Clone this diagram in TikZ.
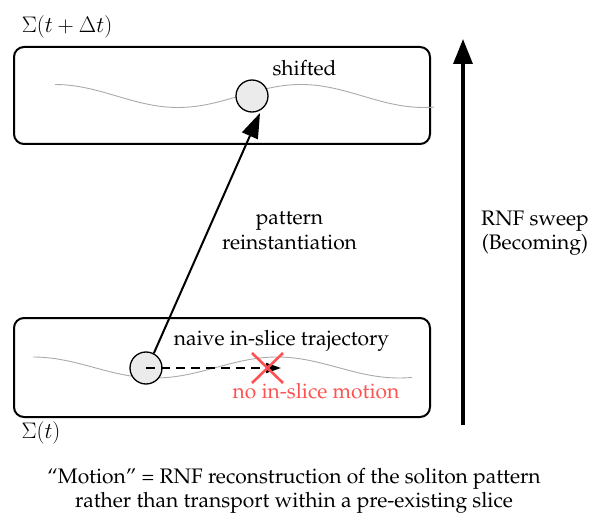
\documentclass[tikz,border=0pt]{standalone}
\usepackage{fix-cm}
\usepackage[T1]{fontenc}
\renewcommand{\rmdefault}{ppl}
\usetikzlibrary{arrows.meta}
\definecolor{softred}{RGB}{252,82,82}
\definecolor{wavegray}{RGB}{170,170,170}
\tikzset{
  slice/.style={draw, line width=2pt, rounded corners=10pt, inner sep=0pt, minimum width=416pt},
  wave/.style={draw=wavegray, line width=0.9pt},
  sol/.style={circle, draw, line width=1.3pt, fill=black!8, minimum size=32pt, inner sep=0pt},
  lbl/.style={inner sep=0pt, anchor=base, font=\fontsize{21}{24.5}\selectfont},
  lblc/.style={lbl, align=center},
  mathlbl/.style={lbl, font=\fontsize{22.5}{26}\selectfont},
  bigtip/.style={-{Triangle[length=25pt,width=17pt]}},
}
\begin{document}
\begin{tikzpicture}[x=1pt,y=-1pt]
\useasboundingbox (0,0) rectangle (589,513);
% slices
\node[slice, minimum height=97pt] (top) at (222,95.5) {};
\node[slice, minimum height=99pt] (bot) at (222,367.5) {};
% waves
\draw[wave] plot[domain=55:434,samples=90,smooth] (\x,{96-11.5*cos((\x-55)/246*360)});
\draw[wave] plot[domain=33:412,samples=90,smooth] (\x,{367.5-10.5*cos((\x-33)/244*360)});
% labels
\node[mathlbl] (lt) at (67,33) {$\Sigma(t+\Delta t)$};
\node[mathlbl] (lb) at (41,438) {$\Sigma(t)$};
% solitons
\node[sol] (s1) at (252,96) {};
\node[sol] (s0) at (146,368) {};
\node[lbl] (sh) at (304.5,76) {shifted};
% reinstantiation arrow
\coordinate (tip) at (260,113);
\draw[line width=2pt, bigtip] (s0.62) -- (tip);
\node[lblc] (pr) at (289.5,249) {pattern\\reinstantiation};
% naive in-slice
\coordinate (nt) at (281,368);
\draw[line width=2pt, dash pattern=on 9pt off 6pt, -{Triangle[length=15pt,width=10pt]}] (s0.center) -- (nt);
\node[lbl] (nv) at (281.5,345) {naive in-slice trajectory};
\node[lbl, text=softred] (nm) at (316,398) {no in-slice motion};
\coordinate (xa) at (252,353);
\coordinate (xb) at (283,383);
\coordinate (xc) at (252,383);
\coordinate (xd) at (283,353);
\draw[softred, line width=2.6pt] (xa) -- (xb) (xc) -- (xd);
% RNF sweep
\coordinate (ra) at (463,425);
\coordinate (rb) at (463,39);
\draw[line width=3.3pt, -{Triangle[length=25pt,width=19pt]}] (ra) -- (rb);
\node[lblc] (rnf) at (535,250) {RNF sweep\\(Becoming)};
% caption
\node[lblc, font=\fontsize{21}{23.5}\selectfont] (cap) at (294,507) {``Motion'' = RNF reconstruction of the soliton pattern\\rather than transport within a pre-existing slice};
\end{tikzpicture}
\end{document}
